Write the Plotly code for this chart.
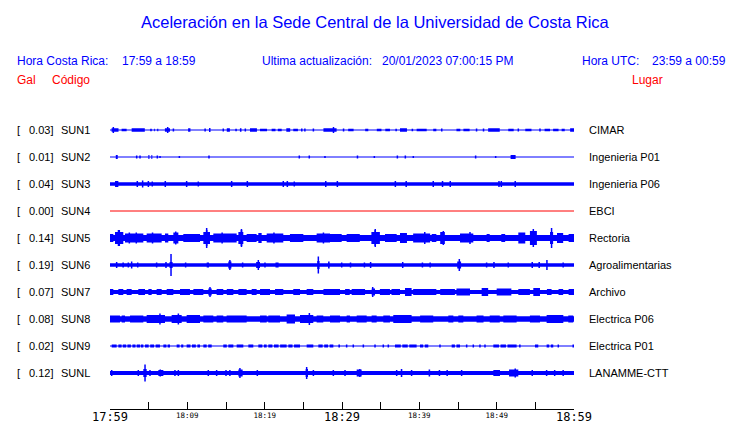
import plotly.graph_objects as go

# ---------------- data ----------------
codes = ['SUN1', 'SUN2', 'SUN3', 'SUN4', 'SUN5', 'SUN6', 'SUN7', 'SUN8', 'SUN9', 'SUNL']
gal = [0.03, 0.01, 0.04, 0.00, 0.14, 0.19, 0.07, 0.08, 0.02, 0.12]
places = ['CIMAR', 'Ingenieria P01', 'Ingenieria P06', 'EBCI', 'Rectoria',
          'Agroalimentarias', 'Archivo', 'Electrica P06', 'Electrica P01', 'LANAMME-CTT']

# background noise half-amplitude of each trace
base_amp = [0.5, 0.5, 1.7, 0.5, 3.0, 1.7, 2.0, 2.8, 0.5, 2.0]

# bursts: (start minute, end minute, half amplitude), minutes after 17:59
sun1 = [(0.2,1.1,1.7),(0.43,0.43,3),(1.5,2.15,1.3),(2.8,4.5,1.7),(5.2,5.4,1.3),(5.7,5.8,1.3),(6.1,6.25,1.3),
        (7.1,7.76,1.7),(7.46,7.46,3),(8.2,8.2,1.5),(10.1,10.4,1.7),(12.3,12.3,1.5),(12.9,12.9,2),(14.65,14.65,1.5),
        (15.1,15.5,1.7),(16.2,16.4,1.3),(16.8,17.0,1.7),(17.5,17.5,1.5),(18.1,19.0,1.7),(19.4,20.3,1.3),(20.9,21.4,1.3),
        (21.7,22.2,1.3),(22.8,23.3,1.7),(23.7,24.3,1.3),(24.8,24.8,1.5),(25.2,25.2,1.5),(26.3,26.3,1.5),
        (27.6,29.3,1.7),(28.9,28.9,3),(30.2,30.2,1.5),(30.8,31.5,1.3),(33.0,33.4,1.3),(34.5,35.1,1.3),
        (35.6,36.2,1.3),(36.9,37.1,1.3),(37.5,38.4,1.7),(39.0,39.2,1.3),(39.65,40.95,1.3),(41.8,42.2,1.3),
        (42.9,42.9,1.5),(44.8,45.3,1.3),(45.7,46.5,1.3),(47.4,47.4,1.5),(48.3,48.3,1.5),(48.9,50.4,1.7),
        (51.5,52.2,1.3),(52.8,52.8,1.5),(53.7,54.5,1.3),(55.6,55.6,1.5),(56.2,56.9,1.3),(57.3,58.0,1.3),
        (58.4,58.8,1.3),(59.5,60,1.7)]
sun2 = [(0.75,1.0,2),(3.45,3.45,1.5),(3.88,3.88,1.5),(4.96,5.1,2),(5.35,5.47,2),(6.12,6.12,1.5),(6.47,6.47,1),
        (8.97,8.97,1),(12.8,12.8,1.5),(24.48,24.48,1.5),(25.77,25.77,1.5),(27.7,27.9,1),(32.0,32.0,1.5),
        (34.18,34.18,1),(37.16,37.16,1.5),(38.19,38.19,1.5),(39.22,39.22,1),(47.28,47.28,1.5),
        (49.87,49.87,1),(51.8,52.45,2)]
sun3 = [(0.65,1.08,3),(3.53,3.53,3),(4.22,4.22,3.5),(4.96,4.96,3),(5.47,5.47,2.5),(7.15,7.15,3),(9.91,9.91,3),
        (11.42,11.42,2.5),(15.73,15.73,3),(17.76,17.76,3),(22.41,22.41,3),(22.93,22.93,3),(23.83,23.83,2.5),
        (27.9,27.9,3),(29.4,29.4,3),(36.9,36.9,3),(38.3,38.3,3),(41.8,41.8,3),(43.0,43.0,3),(44.0,44.0,3),
        (50.3,50.3,3),(50.6,50.6,3),(52.4,52.4,3)]
sun4 = []
sun5 = [(0,0.43,4),(0.65,1.72,6),(1.0,1.3,8),(1.94,4.31,4.5),(2.5,2.5,5.5),(3.4,3.4,5.5),(4.74,6.68,4.5),
        (5.5,5.5,5.5),(7.11,7.54,4.5),(8.19,8.84,5.5),(8.5,8.5,6.5),(9.48,11.64,4),(12.07,12.93,6),(12.4,12.6,8),
        (12.5,12.5,10),(13.36,16.38,4.5),(14.5,14.5,5.5),(16.6,17.24,6),(16.9,17.1,8),(17.0,17.0,9),
        (17.67,18.96,4),(19.18,19.61,5),(20.26,22.41,4.5),(21.2,21.2,5.5),(23.27,25.0,4),(26.72,28.45,4.5),
        (27.6,27.6,5.5),(28.45,29.96,4),(30.6,32.3,4),(33.8,34.9,6),(34.2,34.4,8),(34.3,34.3,9),
        (35.56,37.07,4),(37.5,38.4,5),(39.2,41.4,4.5),(40.7,40.7,6),(41.6,42.2,4),(42.7,43.3,6),(43.1,43.1,7),
        (45.26,46.98,4.5),(46.55,46.55,6),(48.7,49.1,4),(50.6,51.1,4),(52.8,53.7,5.5),(54.3,55.2,7),
        (54.74,54.74,9),(56.9,57.3,6),(57.1,57.1,10),(57.8,58.6,5),(59.3,60,4)]
sun6 = [(0.86,0.86,3),(1.6,1.8,2.5),(2.37,2.37,2.5),(2.8,2.8,3.5),(3.58,3.58,2.5),(6.03,6.03,2.5),(7.24,7.24,3),
        (7.7,8.1,3),(7.89,7.89,11),(9.78,9.78,2.5),(12.5,12.8,2.5),(15.3,15.7,3.5),(15.5,15.5,5),(17.15,17.15,2.5),
        (18.9,19.4,3),(19.18,19.18,5),(20.04,20.04,2.5),(21.4,21.8,2.5),(26.94,26.94,8.5),(26.8,27.1,4),
        (28.2,28.4,3.5),(29.96,29.96,2.5),(31.1,31.1,2.5),(32.9,32.9,2.5),(33.7,33.7,3),(37.85,37.85,3),
        (40.4,40.4,2.5),(41.4,41.4,2.5),(44.9,45.4,3.5),(45.17,45.17,6),(48.7,48.7,2.5),(49.65,49.65,3),
        (51.5,51.5,2.5),(54.6,54.6,3),(55.5,55.5,3),(56.5,56.5,5),(58.6,58.6,2.5)]
sun7 = [(0,0.43,3),(1.08,1.72,3),(2.15,2.8,3),(3.66,4.53,3),(4.96,5.39,3),(6.03,6.68,3),(7.33,8.19,3),
        (9.05,10.34,3),(10.78,12.07,3),(12.72,13.15,3.5),(12.93,12.93,5),(13.79,14.65,3),(15.1,15.95,3),
        (16.6,17.67,3),(18.32,18.96,3),(19.4,20.69,3),(21.34,22.41,3),(23.7,24.57,3),(25.43,26.29,3),
        (27.6,29.74,3),(30.4,31.0,3),(31.25,32.98,3),(33.84,34.27,3.5),(33.97,33.97,5),(34.9,36.2,3),
        (36.4,37.5,3),(38.15,39.0,4),(39.2,42.2,3),(42.7,44.6,3),(44.8,46.55,3.5),(48.06,48.9,4),
        (50.0,51.9,3.5),(52.8,54.3,3),(54.74,55.6,4),(56.5,57.1,3),(58.0,58.6,3),(59.3,60,3)]
sun8 = [(0,1.29,3.5),(1.51,1.94,3.5),(2.59,4.31,3.5),(4.74,7.11,4),(6.46,6.46,5.5),(7.97,9.27,4),(8.84,8.84,5.5),
        (9.91,11.64,4),(12.07,13.36,3.5),(13.79,14.65,3.5),(15.08,17.67,3.5),(19.4,20.26,3.5),(20.47,21.98,3.5),
        (22.84,23.92,4.5),(24.57,26.29,4),(25.78,25.78,6),(26.72,27.58,3.5),(28.45,29.74,3.5),(30.6,31.03,3.5),
        (31.9,33.19,3.5),(33.83,34.48,3.5),(35.34,36.2,3.5),(36.63,39.0,4),(40.1,41.8,3.5),(43.75,44.4,3.5),
        (45.04,45.69,3.5),(47.4,48.3,3.5),(49.1,50.4,3.5),(50.86,52.58,3.5),(54.3,55.6,3.5),(56.46,58.62,4),
        (59.26,59.9,3.5)]
sun9 = [(0.22,0.86,1.5),(1.08,1.5,1.5),(1.65,2.1,1.5),(2.25,2.7,1.5),(2.9,3.3,1.5),(3.45,3.9,1.5),(4.0,4.31,1.5),
        (4.53,5.0,1.5),(5.2,5.7,1.5),(5.9,6.46,1.5),(6.9,7.3,1.5),(7.45,7.76,1.5),(8.62,9.0,1.5),(9.2,9.48,1.5),
        (9.91,10.4,1.5),(10.6,11.1,1.5),(11.3,11.64,1.5),(12.07,12.5,1.5),(12.7,13.15,1.5),(14.65,15.1,1.5),
        (15.3,15.95,1.5),(16.38,17.24,1.5),(17.89,18.53,1.5),(19.18,19.7,1.5),(19.9,20.26,1.5),(20.47,21.0,1.5),
        (21.2,21.8,1.5),(22.0,22.84,1.5),(23.06,23.6,1.5),(23.8,24.57,1.5),(25.43,26.29,1.5),(26.94,27.5,1.5),
        (27.7,28.2,1.5),(28.4,28.88,1.5),(29.53,29.74,1.5),(30.6,30.6,1.5),(31.46,31.46,1.5),(32.76,32.76,1.5),
        (34.27,34.27,1.5),(35.34,35.34,1.5),(35.99,35.99,1.5),(36.85,37.6,1.5),(37.8,38.5,1.5),(38.7,39.65,1.5),
        (40.08,40.5,1.5),(40.7,41.16,1.5),(42.67,42.67,1.5),(44.18,44.6,1.5),(44.8,45.26,1.5),(46.12,46.12,1.5),
        (46.98,46.98,1.5),(47.84,47.84,1.5),(48.49,48.49,1.5),(49.57,50.3,1.5),(50.5,51.2,1.5),(51.4,52.58,1.5),
        (53.0,53.0,1.5),(54.95,55.38,1.5),(56.46,56.8,1.5),(57.0,57.32,1.5),(57.97,57.97,1.5),(59.9,59.9,1.5)]
sunl = [(0.22,0.22,3),(3.66,3.66,3),(4.31,4.74,4),(4.53,4.53,8.5),(5.17,5.17,3),(6.25,6.9,3),(6.5,6.5,3.5),
        (8.4,8.4,3),(8.84,8.84,3),(12.71,12.71,3),(13.79,13.79,3),(15.0,15.0,3),(15.5,15.5,3),(16.6,17.15,3.5),
        (16.8,16.8,5),(19.05,19.05,3),(25.3,25.6,4),(25.43,25.43,6),(26.3,26.3,3),(28.88,28.88,3),
        (30.39,30.39,3),(31.9,32.54,3.5),(32.3,32.3,4),(37.07,37.07,3),(37.6,37.8,4),(39.0,39.0,3),
        (41.2,41.4,3.5),(42.6,42.6,3),(43.6,43.6,3),(45.47,45.47,3),(49.57,50.43,3),(51.6,52.8,3.5),
        (52.4,52.4,4.5),(54.6,54.6,3),(56.46,56.46,3),(57.5,57.5,3),(58.6,58.6,3)]
bursts = [sun1, sun2, sun3, sun4, sun5, sun6, sun7, sun8, sun9, sunl]

tick_minutes = [0, 5, 10, 15, 20, 25, 30, 35, 40, 45, 50, 55, 60]
small_tick_labels = ['', '', '18:09', '', '18:19', '', '', '', '18:39', '', '18:49', '', '']
big_tick_minutes = [0, 30, 60]
big_tick_labels = ['17:59', '18:29', '18:59']

# ---------------- style / layout ----------------
W, H = 740, 423
BLUE = '#0000ff'
RED = '#ff0000'
ROW0, ROW_STEP = 130, 27
trace_colors = [BLUE, BLUE, BLUE, RED, BLUE, BLUE, BLUE, BLUE, BLUE, BLUE]
X0, X1 = 110, 574
AXIS_Y = 409
SANS = 'Liberation Sans, Arial, sans-serif'
MONO = 'DejaVu Sans Mono, monospace'

fig = go.Figure()
for i, code in enumerate(codes):
    c = ROW0 + ROW_STEP * i
    col = trace_colors[i]
    b = base_amp[i]
    fig.add_trace(go.Scatter(x=[0, 60], y=[c, c], mode='lines',
                             line=dict(color=col, width=max(1, 2 * b)),
                             hoverinfo='skip', showlegend=False))
    bx, by, sx, sy = [], [], [], []
    for t0, t1, a in bursts[i]:
        if t1 > t0:
            bx += [t0, t1, t1, t0, t0, None]
            by += [c - a, c - a, c + a, c + a, c - a, None]
        else:
            sx += [t0, t0, None]
            sy += [c - a, c + a, None]
    if bx:
        fig.add_trace(go.Scatter(x=bx, y=by, mode='lines', fill='toself',
                                 fillcolor=col, line=dict(color=col, width=0),
                                 hoverinfo='skip', showlegend=False))
    if sx:
        fig.add_trace(go.Scatter(x=sx, y=sy, mode='lines',
                                 line=dict(color=col, width=1.5),
                                 hoverinfo='skip', showlegend=False))

ann = []
def txt(x, y, s, color='black', size=11, anchor='left', family=SANS):
    ann.append(dict(x=x / W, y=y, xref='paper', yref='y', text=s, showarrow=False,
                    xanchor=anchor, yanchor='middle',
                    font=dict(family=family, size=size, color=color)))

txt(375, 22, 'Aceleración en la Sede Central de la Universidad de Costa Rica', BLUE, 16.5, 'center')
txt(15, 61, 'Hora Costa Rica:', BLUE, 12)
txt(120, 61, '17:59 a 18:59', BLUE, 12)
txt(260, 61, 'Ultima actualización:', BLUE, 12)
txt(380, 61, '20/01/2023 07:00:15 PM', BLUE, 12)
txt(580, 61, 'Hora UTC:', BLUE, 12)
txt(650, 61, '23:59 a 00:59', BLUE, 12)
txt(15, 80, 'Gal', RED, 12)
txt(50, 80, 'Código', RED, 12)
txt(630, 80, 'Lugar', RED, 12)

for i, code in enumerate(codes):
    c = ROW0 + ROW_STEP * i
    txt(15, c, '[', 'black', 11)
    txt(55, c, f'{gal[i]:.2f}]', 'black', 11, 'right')
    txt(59, c, code, 'black', 11)
    txt(587, c, places[i], 'black', 11)

fig.update_layout(
    template='none',
    width=W, height=H, margin=dict(l=0, r=0, t=0, b=0, pad=0, autoexpand=False),
    paper_bgcolor='white', plot_bgcolor='white',
    annotations=ann, hovermode=False, showlegend=False,
    xaxis=dict(domain=[X0 / W, X1 / W], range=[0, 60], showgrid=False, zeroline=False, automargin=False,
               showline=True, linecolor='black', linewidth=1,
               ticks='inside', ticklen=7, tickcolor='black', tickwidth=1,
               tickmode='array', tickvals=tick_minutes, ticktext=small_tick_labels,
               ticklabelstandoff=-1,
               tickfont=dict(family=MONO, size=7.5, color='black'), fixedrange=True),
    xaxis2=dict(domain=[X0 / W, X1 / W], range=[0, 60], overlaying='x', anchor='y', side='bottom',
                showgrid=False, zeroline=False, showline=False, ticks='', automargin=False,
                tickmode='array', tickvals=big_tick_minutes, ticktext=big_tick_labels,
                ticklabelstandoff=-1,
                tickfont=dict(family=MONO, size=12, color='black'), fixedrange=True),
    yaxis=dict(domain=[(H - AXIS_Y) / H, 1], range=[AXIS_Y, 0], visible=False, fixedrange=True,
               automargin=False),
)
fig.add_trace(go.Scatter(x=[None], y=[None], xaxis='x2', yaxis='y', showlegend=False, hoverinfo='skip'))

fig.write_html('out.html', config={'displayModeBar': False, 'staticPlot': True},
               post_script="document.body.style.margin='0';document.body.style.overflow='hidden';")
